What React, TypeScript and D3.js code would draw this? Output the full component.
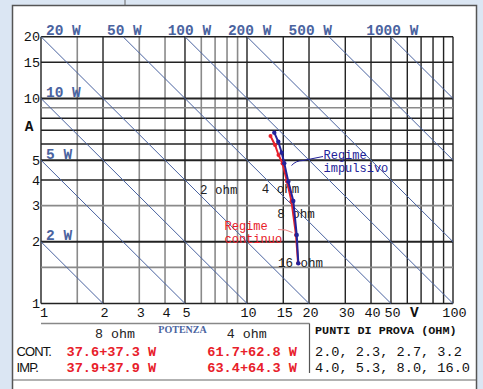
import React from "react";
import * as d3 from "d3";

// Axis ticks and grid
const voltTicks = [1, 2, 3, 4, 5, 10, 15, 20, 30, 40, 50, 100];
const ampTicks = [1, 2, 3, 4, 5, 10, 15, 20];
const voltGrid = [1, 1.5, 2, 3, 4, 5, 6, 7, 8, 9, 10, 15, 20, 30, 40, 50, 60, 70, 80, 90, 100];
const ampGrid = [1, 1.5, 2, 3, 4, 5, 6, 7, 8, 9, 10, 15, 20];
const voltGridLight = [1.5, 3, 4, 6, 7, 8, 9];
const ampGridLight = [1.5, 3, 9];
const ampGridHeavy = [2, 5, 10];

// Constant power lines (W)
const powerLevels = [2, 5, 10, 20, 50, 100, 200, 500, 1000];
// label anchors (volts) for the power lines written along the top edge
const topPowerLabelVolts = [1.057, 2.09, 4.12, 8.08, 15.9, 37.9];

// Load labels (ohm) with anchor voltage / current
const ohmLabels = ["2 ohm", "4 ohm", "8 ohm", "16 ohm"];
const ohmLabelVolts = [5.91, 11.79, 14.03, 14.14];
const ohmLabelAmps = [3.42, 3.45, 2.6, 1.51];

// Measured points, one per test load
const continuoVolts = [13.0, 13.68, 14.22, 14.87, 15.64, 16.44, 17.29, 17.7];
const continuoAmps = [6.56, 5.93, 5.3, 4.82, 3.94, 3.15, 2.16, 1.57];
const impulsivoVolts = [13.57, 14.19, 14.74, 15.17, 15.87, 16.78, 17.43, 17.75];
const impulsivoAmps = [6.81, 6.15, 5.44, 4.83, 3.93, 3.16, 2.16, 1.57];

// Power table
const tableLoads = ["8 ohm", "4 ohm"];
const tableRows = ["CONT.", "IMP."];
const power8 = ["37.6+37.3 W", "37.9+37.9 W"];
const power4 = ["61.7+62.8 W", "63.4+64.3 W"];
const testLoads = ["2.0, 2.3, 2.7, 3.2", "4.0, 5.3, 8.0, 16.0"];

const W = 483;
const H = 389;
const MONO = "'Liberation Mono', 'DejaVu Sans Mono', monospace";
const SANS = "'Liberation Sans', Arial, sans-serif";
const SERIF = "'Liberation Serif', 'Times New Roman', serif";
const POWER_BLUE = "#4a63a0";
const NAVY = "#23239a";
const RED = "#e8202a";

export default function App() {
  const x = d3.scaleLog().domain([1, 100]).range([41, 453]);
  const y = d3.scaleLog().domain([1, 20]).range([303.5, 36.7]);

  const line = d3
    .line<[number, number]>()
    .x((d) => x(d[0]))
    .y((d) => y(d[1]));

  const continuo: [number, number][] = continuoVolts.map((v, i) => [v, continuoAmps[i]]);
  const impulsivo: [number, number][] = impulsivoVolts.map((v, i) => [v, impulsivoAmps[i]]);

  const powerSegments = powerLevels.map((p) => {
    const v0 = Math.max(1, p / 20);
    const v1 = Math.min(100, p);
    return { p, pts: [[v0, p / v0], [v1, p / v1]] as [number, number][] };
  });

  const leftPower = powerLevels.filter((p) => p <= 10).reverse();
  const topPower = powerLevels.filter((p) => p >= 20);

  return (
    <svg
      width={W}
      height={H}
      style={{ position: "absolute", left: 0, top: 0 }}
      xmlns="http://www.w3.org/2000/svg"
    >
      <rect x={0} y={0} width={W} height={H} fill="#dbe6f3" />
      <line x1={125} y1={0} x2={125} y2={5} stroke="#666" strokeWidth={1} />
      <rect x={12.5} y={5.5} width={464} height={400} fill="#fff" stroke="#555" strokeWidth={1.5} />
      <line x1={12.5} y1={380} x2={476.5} y2={380} stroke="#666" strokeWidth={1.2} />

      {/* grid */}
      <g>
        {voltGrid.map((v) => {
          const light = voltGridLight.includes(v);
          return (
            <line
              key={"vg" + v}
              x1={x(v)}
              x2={x(v)}
              y1={y(20)}
              y2={y(1)}
              stroke={light ? "#8a8a8a" : "#222"}
              strokeWidth={light ? 1.6 : 1.4}
            />
          );
        })}
        {ampGrid.map((a) => {
          const light = ampGridLight.includes(a);
          const heavy = ampGridHeavy.includes(a);
          return (
            <line
              key={"ag" + a}
              x1={x(1)}
              x2={x(100)}
              y1={y(a)}
              y2={y(a)}
              stroke={light ? "#8a8a8a" : "#222"}
              strokeWidth={heavy ? 2 : light ? 1.6 : 1.4}
            />
          );
        })}
      </g>

      {/* constant power lines */}
      <g>
        {powerSegments.map((s) => (
          <path key={"p" + s.p} d={line(s.pts) || ""} fill="none" stroke={POWER_BLUE} strokeWidth={1} />
        ))}
      </g>

      {/* power labels */}
      <g fontFamily={MONO} fontWeight="bold" fontSize={14.5} fill={POWER_BLUE}>
        {topPower.map((p, i) => (
          <text key={"tp" + p} x={x(topPowerLabelVolts[i])} y={35}>
            {p + " W"}
          </text>
        ))}
        {leftPower.map((p) => (
          <text key={"lp" + p} x={46} y={y(p) - 1.5}>
            {p + " W"}
          </text>
        ))}
      </g>

      {/* axis tick labels */}
      <g fontFamily={MONO} fontSize={13.5} fill="#111">
        {ampTicks.map((a) => (
          <text key={"at" + a} x={40} y={y(a) + 4.5} textAnchor="end">
            {a}
          </text>
        ))}
        {voltTicks.map((v) => (
          <text key={"vt" + v} x={x(v) + (v === 1 ? 3 : 1.5)} y={316.5} textAnchor="middle">
            {v}
          </text>
        ))}
      </g>
      <text x={29} y={131} fontFamily={MONO} fontWeight="bold" fontSize={14.5} textAnchor="middle" fill="#111">
        A
      </text>
      <text x={x(65)} y={316.5} fontFamily={MONO} fontWeight="bold" fontSize={14.5} textAnchor="middle" fill="#111">
        V
      </text>

      {/* load labels */}
      <g fontFamily={MONO} fontSize={12.5} fill="#222">
        {ohmLabels.map((t, i) => (
          <text key={t} x={x(ohmLabelVolts[i])} y={y(ohmLabelAmps[i])}>
            {t}
          </text>
        ))}
      </g>

      {/* measured curves */}
      <path d={line(continuo) || ""} fill="none" stroke={RED} strokeWidth={2} />
      {continuo.map((d, i) => (
        <circle key={"c" + i} cx={x(d[0])} cy={y(d[1])} r={2} fill={RED} />
      ))}
      <path d={line(impulsivo) || ""} fill="none" stroke={NAVY} strokeWidth={2} />
      {impulsivo.map((d, i) => (
        <circle key={"i" + i} cx={x(d[0])} cy={y(d[1])} r={2.2} fill={NAVY} />
      ))}

      {/* annotations */}
      <path d="M291.5 165.5 Q296 160.5 303 160.5 L323 156.5" fill="none" stroke={NAVY} strokeWidth={1} />
      <g fontFamily={MONO} fontSize={12} fill={NAVY}>
        <text x={323.5} y={158.5}>Regime</text>
        <text x={323.5} y={171.5}>impulsivo</text>
      </g>
      <path d="M278 229.5 Q286 229 292.5 232.5" fill="none" stroke="#f08080" strokeWidth={1} />
      <g fontFamily={MONO} fontSize={12} fill={RED}>
        <text x={224.5} y={230}>Regime</text>
        <text x={224.5} y={242.5}>continuo</text>
      </g>

      {/* table */}
      <line x1={41} y1={323.5} x2={309.5} y2={323.5} stroke="#888" strokeWidth={1.5} />
      <line x1={309.5} y1={323.5} x2={309.5} y2={373} stroke="#555" strokeWidth={1.2} />
      <text x={182.5} y={333.3} fontFamily={SERIF} fontWeight="bold" fontSize={10} textAnchor="middle" fill={POWER_BLUE}>
        POTENZA
      </text>
      <g fontFamily={MONO} fontSize={13.3} fill="#222">
        <text x={115} y={337.5} textAnchor="middle">{tableLoads[0]}</text>
        <text x={246.7} y={337.5} textAnchor="middle">{tableLoads[1]}</text>
      </g>
      <text x={315} y={334.3} fontFamily={MONO} fontWeight="bold" fontSize={11.8} fill="#111">
        PUNTI DI PROVA (OHM)
      </text>
      {tableRows.map((r, i) => {
        const base = 356 + i * 16.3;
        return (
          <g key={r}>
            <text x={16.5} y={base} fontFamily={SANS} fontSize={13} letterSpacing={-0.9} fill="#111">
              {r}
            </text>
            <text x={66.5} y={base} fontFamily={MONO} fontWeight="bold" fontSize={13.6} fill={RED}>
              {power8[i]}
            </text>
            <text x={207.3} y={base} fontFamily={MONO} fontWeight="bold" fontSize={13.6} fill={RED}>
              {power4[i]}
            </text>
            <text x={315} y={base} fontFamily={MONO} fontSize={13.6} fill="#111">
              {testLoads[i]}
            </text>
          </g>
        );
      })}
    </svg>
  );
}
